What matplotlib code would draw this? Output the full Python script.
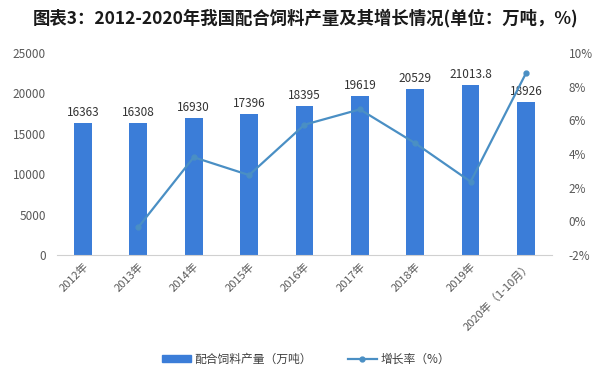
import matplotlib
matplotlib.use("Agg")
import matplotlib.pyplot as plt
import numpy as np

plt.rcParams['font.family'] = ['Noto Sans CJK SC', 'DejaVu Sans']

years = ["2012年", "2013年", "2014年", "2015年", "2016年", "2017年", "2018年", "2019年", "2020年（1-10月）"]
output = [16363, 16308, 16930, 17396, 18395, 19619, 20529, 21013.8, 18926]
output_labels = ["16363", "16308", "16930", "17396", "18395", "19619", "20529", "21013.8", "18926"]
growth = [None, -0.34, 3.81, 2.75, 5.74, 6.65, 4.64, 2.36, 8.8]

left_ticks = [0, 5000, 10000, 15000, 20000, 25000]
right_ticks = [-2, 0, 2, 4, 6, 8, 10]

bar_color = '#3b7dd8'
line_color = '#4a8fc4'
tick_color = '#595959'

fig = plt.figure(figsize=(6.12, 3.78), dpi=100)
ax = fig.add_axes([0.093, 0.325, 0.809, 0.535])
x = np.arange(len(years))
ax.bar(x, output, width=0.32, color=bar_color, zorder=2)
for xi, v, lab in zip(x, output, output_labels):
    ax.text(xi, v + 500, lab, ha='center', va='bottom', fontsize=8.5, color='#333333')

ax.set_ylim(0, 25000)
ax.set_yticks(left_ticks)
ax.set_xlim(-0.47, len(years) - 0.53)
ax.set_xticks(x)
ax.set_xticklabels(years, rotation=45, ha='right', rotation_mode='anchor', fontsize=8, color=tick_color)
ax.tick_params(axis='y', labelsize=8.5, colors=tick_color, length=0, pad=8)
ax.tick_params(axis='x', length=0, pad=4)
for s in ['top', 'right', 'left']:
    ax.spines[s].set_visible(False)
ax.spines['bottom'].set_color('#d0d0d0')

ax2 = ax.twinx()
gx = [xi for xi, g in zip(x, growth) if g is not None]
gy = [g for g in growth if g is not None]
ax2.plot(gx, gy, color=line_color, linewidth=1.6, marker='o', markersize=3.5, zorder=3)
ax2.set_ylim(-2, 10)
ax2.set_yticks(right_ticks)
ax2.set_yticklabels([f"{t}%" for t in right_ticks])
ax2.tick_params(axis='y', labelsize=8.5, colors=tick_color, length=0, pad=12)
for s in ['top', 'right', 'left', 'bottom']:
    ax2.spines[s].set_visible(False)

fig.text(0.5, 0.953, "图表3：2012-2020年我国配合饲料产量及其增长情况(单位：万吨，%)",
         ha='center', va='center', fontsize=12.5, fontweight='bold', color='#1a1a1a')

from matplotlib.patches import Patch
from matplotlib.lines import Line2D
handles = [Patch(color=bar_color, label='配合饲料产量（万吨）'),
           Line2D([0], [0], color=line_color, linewidth=1.6, marker='o', markersize=3.5, label='增长率（%）')]
fig.legend(handles=handles, loc='center', bbox_to_anchor=(0.5, 0.05), ncol=2, frameon=False,
           fontsize=8.5, labelcolor='#404040', handlelength=2.5, columnspacing=3, handleheight=0.5,
           handletextpad=0.3)

fig.savefig("out.png", dpi=100, facecolor='white')
